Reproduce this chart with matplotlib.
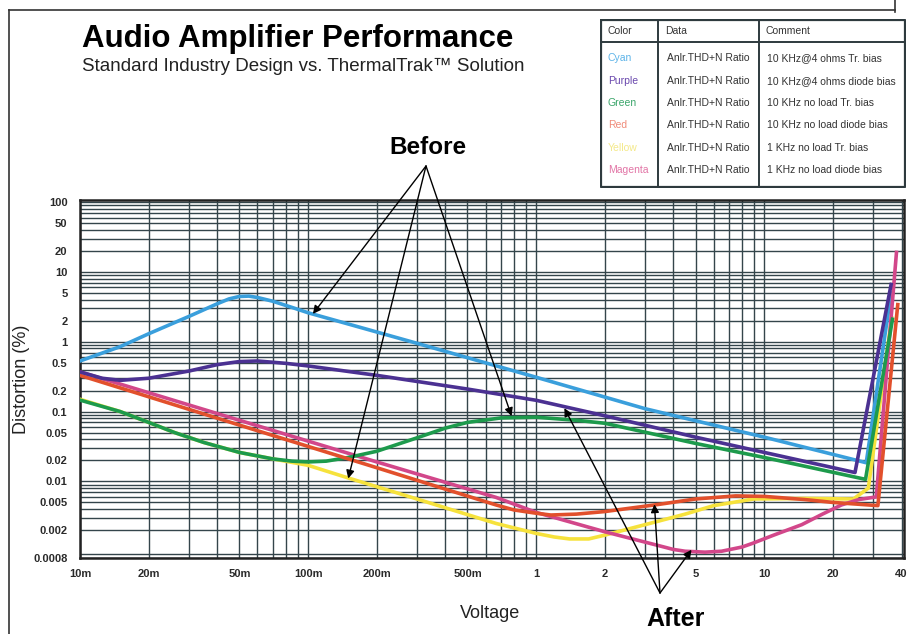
import numpy as np
import matplotlib
matplotlib.use('Agg')
import matplotlib.pyplot as plt
from matplotlib.lines import Line2D
from matplotlib.ticker import FixedLocator, NullFormatter, LogLocator

plt.rcParams['font.family'] = ['Liberation Sans', 'DejaVu Sans']

# data (voltage in V, distortion in %)
cyan_v = [0.01, 0.015, 0.02, 0.03, 0.04, 0.045, 0.05, 0.055, 0.06, 0.07, 0.085, 0.1, 0.3, 1, 3, 10, 28, 36]
cyan_d = [0.53, 0.85, 1.3, 2.3, 3.5, 4.1, 4.45, 4.5, 4.3, 3.8, 3.1, 2.6, 0.95, 0.31, 0.11, 0.043, 0.0185, 5.0]

purple_v = [0.01, 0.0125, 0.015, 0.02, 0.03, 0.04, 0.05, 0.06, 0.08, 0.1, 0.2, 0.5, 1, 2, 5, 10, 25, 36]
purple_d = [0.37, 0.3, 0.28, 0.3, 0.38, 0.47, 0.52, 0.53, 0.49, 0.45, 0.33, 0.21, 0.145, 0.087, 0.043, 0.026, 0.0134, 6.6]

green_v = [0.01, 0.015, 0.02, 0.026, 0.035, 0.05, 0.07, 0.085, 0.1, 0.12, 0.15, 0.2, 0.3, 0.4, 0.5, 0.7, 1, 1.5, 2, 5, 10, 27.8, 36.5]
green_d = [0.146, 0.1, 0.07, 0.05, 0.036, 0.026, 0.021, 0.0195, 0.019, 0.0195, 0.022, 0.027, 0.042, 0.058, 0.07, 0.081, 0.083, 0.075, 0.068, 0.035, 0.022, 0.0107, 2.1]

red_v = [0.01, 0.05, 0.2, 0.667, 0.8, 1.0, 1.16, 1.5, 2, 3.47, 5, 7.5, 10, 15, 20, 31.5, 38.5]
red_d = [0.33, 0.064, 0.0157, 0.0046, 0.0039, 0.0035, 0.0033, 0.0034, 0.0037, 0.0047, 0.0056, 0.0062, 0.0061, 0.0055, 0.005, 0.0045, 3.4]

yellow_v = [0.01, 0.015, 0.02, 0.026, 0.035, 0.05, 0.07, 0.1, 0.15, 0.3, 0.667, 1, 1.2, 1.4, 1.7, 2, 3, 4.5, 6, 9, 15, 24.6, 28.6, 36.2]
yellow_d = [0.15, 0.1, 0.07, 0.05, 0.036, 0.026, 0.021, 0.017, 0.0112, 0.0056, 0.0025, 0.0018, 0.0016, 0.0015, 0.0015, 0.0017, 0.0024, 0.0034, 0.0045, 0.0056, 0.0057, 0.0056, 0.008, 2.2]

magenta_v = [0.01, 0.05, 0.2, 0.667, 1, 2, 3.2, 4, 4.5, 5.5, 6.5, 8, 8.9, 11, 14.6, 18, 21.8, 26, 31, 38]
magenta_d = [0.37, 0.075, 0.019, 0.0059, 0.0036, 0.0019, 0.00128, 0.00106, 0.001, 0.00097, 0.001, 0.00115, 0.0013, 0.0017, 0.0024, 0.0034, 0.0046, 0.0055, 0.006, 19]

ytick_vals = [100, 50, 20, 10, 5, 2, 1, 0.5, 0.2, 0.1, 0.05, 0.02, 0.01, 0.005, 0.002, 0.0008]
ytick_labels = ['100', '50', '20', '10', '5', '2', '1', '0.5', '0.2', '0.1', '0.05', '0.02', '0.01', '0.005', '0.002', '0.0008']
xtick_vals = [0.01, 0.02, 0.05, 0.1, 0.2, 0.5, 1, 2, 5, 10, 20, 40]
xtick_labels = ['10m', '20m', '50m', '100m', '200m', '500m', '1', '2', '5', '10', '20', '40']

legend_names = ['Cyan', 'Purple', 'Green', 'Red', 'Yellow', 'Magenta']
legend_data = ['Anlr.THD+N Ratio'] * 6
legend_comments = ['10 KHz@4 ohms Tr. bias', '10 KHz@4 ohms diode bias', '10 KHz no load Tr. bias',
                   '10 KHz no load diode bias', '1 KHz no load Tr. bias', '1 KHz no load diode bias']

# (x, y) targets of the annotation arrows
before_pts = [(0.105, 2.5), (0.15, 0.011), (0.78, 0.086)]
after_pts = [(1.33, 0.112), (3.3, 0.0047), (4.8, 0.00105)]

fig = plt.figure(figsize=(9.14, 6.34), dpi=100)
W, H = 914, 634

ax = fig.add_axes([80 / W, 1 - 558 / H, 824 / W, 358 / H])
ax.set_xscale('log')
ax.set_yscale('log')
ax.set_xlim(0.01, 41)
ax.set_ylim(0.0008, 107)

gridc = '#34454b'
ax.xaxis.set_minor_locator(LogLocator(base=10, subs=np.arange(2, 10)))
ax.yaxis.set_minor_locator(LogLocator(base=10, subs=np.arange(2, 10)))
ax.grid(True, which='both', color=gridc, lw=1.0)
ax.set_axisbelow(True)

ax.xaxis.set_major_locator(FixedLocator(xtick_vals))
ax.set_xticklabels(xtick_labels)
ax.xaxis.set_minor_formatter(NullFormatter())
ax.yaxis.set_major_locator(FixedLocator(ytick_vals))
ax.set_yticklabels(ytick_labels)
ax.yaxis.set_minor_formatter(NullFormatter())
ax.tick_params(which='both', length=0)
ax.tick_params(axis='y', pad=9, labelsize=8, labelcolor='#2a2a2a')
ax.tick_params(axis='x', pad=8, labelsize=8, labelcolor='#2a2a2a')
for lab in ax.get_xticklabels() + ax.get_yticklabels():
    lab.set_fontweight('bold')
for sp in ax.spines.values():
    sp.set_linewidth(1.8)
    sp.set_color('#222222')

lw = 2.6
ax.plot(cyan_v, cyan_d, color='#3a9fdc', lw=lw, zorder=3)
ax.plot(yellow_v, yellow_d, color='#f6e23c', lw=lw, zorder=3)
ax.plot(green_v, green_d, color='#1d9a4c', lw=lw, zorder=4)
ax.plot(magenta_v, magenta_d, color='#d2478a', lw=lw, zorder=3)
ax.plot(red_v, red_d, color='#e2502c', lw=lw, zorder=4)
ax.plot(purple_v, purple_d, color='#4b3192', lw=lw, zorder=5)

ax.set_xlabel('Voltage', fontsize=13, color='#222')
ax.set_ylabel('Distortion (%)', fontsize=13, color='#222')
ax.xaxis.set_label_coords((490 - 80) / 824, -(605 - 558) / 358)
ax.yaxis.set_label_coords(-(80 - 30) / 824, 0.5)

# annotations
fig.text(428 / W, 1 - 148 / H, 'Before', fontsize=17.5, fontweight='bold', ha='center', va='center')
for p in before_pts:
    ax.annotate('', xy=p, xycoords='data', xytext=(426 / W, 1 - 166 / H), textcoords='figure fraction',
                arrowprops=dict(arrowstyle='-|>', color='k', lw=1.0, mutation_scale=12, shrinkA=0, shrinkB=0),
                annotation_clip=False, zorder=6)
fig.text(676 / W, 1 - 619 / H, 'After', fontsize=18, fontweight='bold', ha='center', va='center')
for p in after_pts:
    ax.annotate('', xy=p, xycoords='data', xytext=(660 / W, 1 - 593 / H), textcoords='figure fraction',
                arrowprops=dict(arrowstyle='-|>', color='k', lw=1.0, mutation_scale=12, shrinkA=0, shrinkB=0),
                annotation_clip=False, zorder=6)

# titles
fig.text(82 / W, 1 - 47 / H, 'Audio Amplifier Performance', fontsize=22.5, fontweight='bold', ha='left', va='baseline')
fig.text(82 / W, 1 - 71 / H, 'Standard Industry Design vs. ThermalTrak\u2122 Solution', fontsize=13.5,
         ha='left', va='baseline', color='#222')

# legend table drawn in pixel coordinates
tab = fig.add_axes([600 / W, 1 - 188 / H, 306 / W, 169 / H])
tab.set_xlim(600, 906)
tab.set_ylim(188, 19)
tab.axis('off')
tc = '#2e3a3e'
tab.plot([601, 905, 905, 601, 601], [20, 20, 187, 187, 20], color=tc, lw=1.6)
tab.plot([601, 905], [42, 42], color=tc, lw=1.4)
tab.plot([658, 658], [20, 187], color=tc, lw=1.4)
tab.plot([759, 759], [20, 187], color=tc, lw=1.4)
tab.text(608, 31, 'Color', fontsize=7.5, va='center', color='#333')
tab.text(665, 31, 'Data', fontsize=7.5, va='center', color='#333')
tab.text(766, 31, 'Comment', fontsize=7.5, va='center', color='#333')
name_cols = ['#5cb3e8', '#6a48ad', '#3aa56a', '#f08a78', '#f4e98a', '#e275a6']
row_y = [58, 81, 103, 125, 148, 170]
for i in range(6):
    tab.text(608, row_y[i], legend_names[i], fontsize=7.5, va='center', color=name_cols[i])
    tab.text(667, row_y[i], legend_data[i], fontsize=7.5, va='center', color='#333')
    tab.text(767, row_y[i], legend_comments[i], fontsize=7.5, va='center', color='#333')

# page frame
fig.add_artist(Line2D([9 / W, 9 / W], [0, 1 - 10 / H], transform=fig.transFigure, color='#333', lw=1.2))
fig.add_artist(Line2D([9 / W, 895 / W], [1 - 10 / H, 1 - 10 / H], transform=fig.transFigure, color='#333', lw=1.2))
fig.add_artist(Line2D([895 / W, 895 / W], [1 - 12 / H, 1], transform=fig.transFigure, color='#333', lw=1.2))

fig.savefig('out.png', dpi=100)
